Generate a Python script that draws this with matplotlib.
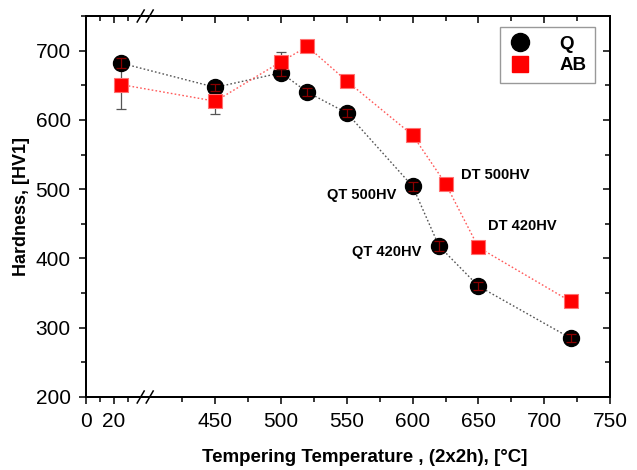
import numpy as np
import matplotlib
matplotlib.use("Agg")
import matplotlib.pyplot as plt
from matplotlib.lines import Line2D

plt.rcParams['font.family'] = ['Liberation Sans', 'DejaVu Sans']

# Hardness after tempering, quenched (Q) and austempered/bainitic (AB)
temps_q = [25, 450, 500, 520, 550, 600, 620, 650, 720]
hard_q = [682, 647, 668, 640, 610, 504, 418, 360, 285]
err_q = [7, 5, 5, 6, 6, 7, 7, 6, 6]

temps_ab = [25, 450, 500, 520, 550, 600, 625, 650, 720]
hard_ab = [651, 627, 684, 706, 656, 578, 508, 416, 338]
err_ab = [35, 19, 14, 7, 7, 7, 7, 7, 7]

xticks_major = [0, 20, 450, 500, 550, 600, 650, 700, 750]
xticks_minor = [10, 30, 425, 475, 525, 575, 625, 675, 725]
yticks_major = [200, 300, 400, 500, 600, 700]
yticks_minor = [250, 350, 450, 550, 650, 750]

notes = ["QT 500HV", "DT 500HV", "DT 420HV", "QT 420HV"]
notes_x = [561, 663, 683, 580]
notes_y = [492, 521, 447, 410]

# piecewise scale for the broken temperature axis
LO, HI = 42.0, 397.0
LEFT_GAIN = 1.064
GAP = 0.6
U_LO = LO * LEFT_GAIN
U_HI = U_LO + GAP


def fwd(x):
    x = np.asarray(x, float)
    return np.where(x <= LO, x * LEFT_GAIN,
                    np.where(x >= HI, U_HI + (x - HI),
                             U_LO + GAP * (x - LO) / (HI - LO)))


def inv(u):
    u = np.asarray(u, float)
    return np.where(u <= U_LO, u / LEFT_GAIN,
                    np.where(u >= U_HI, u - U_HI + HI,
                             LO + (u - U_LO) / GAP * (HI - LO)))


W, H = 637, 470
fig = plt.figure(figsize=(W / 100, H / 100), dpi=100)
ax_l, ax_r, ax_t, ax_b = 86, 610, 16, 397
ax = fig.add_axes([ax_l / W, 1 - ax_b / H, (ax_r - ax_l) / W, (ax_b - ax_t) / H])
ax.set_xscale('function', functions=(fwd, inv))
ax.set_xlim(0, 750)
ax.set_ylim(200, 750)

# series lines and markers
ax.plot(temps_q, hard_q, ls=(0, (1.2, 1.6)), color='#555555', lw=1.0,
        marker='o', ms=11.5, mfc='black', mec='black', zorder=3)
ax.plot(temps_ab, hard_ab, ls=(0, (1.2, 1.6)), color='#ff5a5a', lw=1.0,
        marker='s', ms=10.5, mfc='#ff0000', mec='#ff7070', mew=0.8, zorder=3)

# error bars on top of the markers
ax.errorbar(temps_q, hard_q, yerr=err_q, fmt='none', ecolor='#8a0000',
            elinewidth=0.9, capsize=3.5, capthick=0.9, zorder=4)
ax.errorbar(temps_ab, hard_ab, yerr=err_ab, fmt='none', ecolor='#555555',
            elinewidth=0.9, capsize=3.5, capthick=0.9, zorder=2.5)

for txt, x, y in zip(notes, notes_x, notes_y):
    ax.text(x, y, txt, fontsize=10.5, fontweight='bold', ha='center', va='center')

# ticks
ax.set_xticks(xticks_major)
ax.set_xticks(xticks_minor, minor=True)
ax.set_yticks(yticks_major)
ax.set_yticks(yticks_minor, minor=True)
ax.tick_params(which='both', direction='out', width=1.1, labelsize=15,
               top=False, right=False)
ax.tick_params(axis='x', which='major', pad=6)
ax.tick_params(axis='y', which='major', pad=6)
ax.tick_params(which='major', length=5)
ax.tick_params(which='minor', length=3.5)

for s in ax.spines.values():
    s.set_linewidth(1.3)

ax_top = ax.twiny()
ax_top.set_xscale('function', functions=(fwd, inv))
ax_top.set_xlim(ax.get_xlim())
ax_top.set_xticks(xticks_major)
ax_top.set_xticks(xticks_minor, minor=True)
ax_top.tick_params(which='both', direction='in', width=1.1, labeltop=False)
ax_top.tick_params(which='major', length=5)
ax_top.tick_params(which='minor', length=3.5)

ax_right = ax.twinx()
ax_right.set_ylim(ax.get_ylim())
ax_right.set_yticks(yticks_major)
ax_right.set_yticks(yticks_minor, minor=True)
ax_right.tick_params(which='both', direction='in', width=1.1, labelright=False)
ax_right.tick_params(which='major', length=5)
ax_right.tick_params(which='minor', length=3.5)
for a in (ax_top, ax_right):
    for s in a.spines.values():
        s.set_linewidth(1.3)

# break marks on top and bottom spines
bx = (fwd(LO) + GAP / 2) / fwd(750)
aw, ah = ax_r - ax_l, ax_b - ax_t
for yb in (0.0, 1.0):
    ax.plot([bx - 4.5 / aw, bx + 4.5 / aw], [yb, yb], color='white', lw=2.5,
            transform=ax.transAxes, clip_on=False, zorder=10)
    for off in (-4.5, 4.5):
        cx = bx + off / aw
        ax.plot([cx - 3.5 / aw, cx + 3.5 / aw], [yb - 6 / ah, yb + 6 / ah],
                color='black', lw=1.1, transform=ax.transAxes,
                clip_on=False, zorder=11)

# legend
handles = [Line2D([], [], ls='none', marker='o', ms=13, mfc='black', mec='black'),
           Line2D([], [], ls='none', marker='s', ms=12, mfc='#ff0000', mec='#ff0000')]
leg = ax.legend(handles, ['Q', 'AB'], loc='upper right',
                bbox_to_anchor=(0.971, 0.971), borderaxespad=0,
                prop={'weight': 'bold', 'size': 13.5}, fancybox=False,
                edgecolor='#999999', framealpha=1, handlelength=1.2,
                handletextpad=1.5, borderpad=0.45, labelspacing=0.25)
leg.get_frame().set_linewidth(1.0)
leg.set_zorder(20)

fig.text(365 / W, 1 - 458 / H, 'Tempering Temperature , (2x2h), [°C]',
         fontsize=13.5, fontweight='bold', ha='center', va='center')
fig.text(22 / W, 1 - ((ax_t + ax_b) / 2) / H, 'Hardness, [HV1]', rotation=90,
         fontsize=13, fontweight='bold', ha='center', va='center')

fig.savefig('out.png', dpi=100)
